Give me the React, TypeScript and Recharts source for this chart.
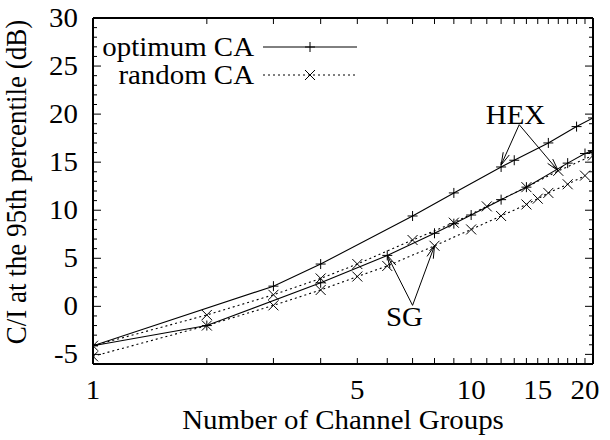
import React from 'react'
import {
    LineChart,
    Line,
    XAxis,
    YAxis,
    Legend,
    ReferenceLine,
    ReferenceDot
} from 'recharts'

const FONT = '"Liberation Serif", "DejaVu Serif", serif'
const FONT_SIZE = 27
// the PostScript-style lettering is a little wider than plain Times
const STRETCH = 1.07

// channel-group counts and C/I values (dB) for each curve
const optimumHexGroups = [1, 3, 4, 7, 9, 12, 13, 16, 19, 21]
const optimumHexDb = [-4.1, 2.1, 4.4, 9.4, 11.8, 14.5, 15.2, 17.0, 18.7, 19.6]

const optimumSgGroups = [1, 2, 4, 6, 8, 9, 10, 12, 14, 18, 20, 21]
const optimumSgDb = [-4.1, -2.0, 2.45, 5.3, 7.6, 8.6, 9.5, 11.1, 12.4, 14.9, 15.9, 16.2]

const randomHexGroups = [1, 2, 3, 4, 5, 7, 9, 11, 14, 17, 21]
const randomHexDb = [-4.1, -0.9, 1.2, 2.9, 4.4, 6.9, 8.7, 10.4, 12.4, 14.1, 15.7]

const randomSgGroups = [1, 2, 3, 4, 5, 6, 8, 10, 12, 14, 15, 16, 18, 20]
const randomSgDb = [-5.2, -2.0, 0.1, 1.7, 3.1, 4.2, 6.3, 8.0, 9.4, 10.6, 11.2, 11.8, 12.7, 13.6]

const xTicks = Array.from({ length: 21 }, (_, i) => i + 1)
const xLabels = [1, 5, 10, 15, 20]
const yTicks = Array.from({ length: 37 }, (_, i) => i - 6)
const yLabels = [-5, 0, 5, 10, 15, 20, 25, 30]

// annotation anchors (in data units)
const hexText = { n: 13.1, db: 19.9 }
const hexFrom = { n: 13.4, db: 18.9 }
const hexTargets = [{ n: 12, db: 14.7 }, { n: 17, db: 14.1 }]
const sgText = { n: 6.66, db: -1.1 }
const sgFrom = { n: 7.0, db: 0.1 }
const sgTargets = [{ n: 6, db: 5.3 }, { n: 8, db: 6.3 }]

const toPoints = (groups: number[], values: number[]) =>
    groups.map((n, i) => ({ n, db: values[i] }))

const Txt = ({ x, y, anchor = 'start', rotate = 0, children }: any) => (
    <text
        transform={`translate(${x} ${y}) rotate(${rotate}) scale(${rotate ? 1 : STRETCH} ${rotate ? STRETCH : 1})`}
        textAnchor={anchor}
        fontFamily={FONT}
        fontSize={FONT_SIZE}
        fill="#000"
    >
        {children}
    </text>
)

const PlusDot = (props: any) => {
    const { cx, cy } = props
    if (cx == null || cy == null) return null
    return (
        <path
            d={`M${cx - 5},${cy}H${cx + 5}M${cx},${cy - 5}V${cy + 5}`}
            stroke="#000"
            strokeWidth={1}
            fill="none"
        />
    )
}

const CrossDot = (props: any) => {
    const { cx, cy } = props
    if (cx == null || cy == null) return null
    return (
        <path
            d={`M${cx - 5},${cy - 5}L${cx + 5},${cy + 5}M${cx - 5},${cy + 5}L${cx + 5},${cy - 5}`}
            stroke="#000"
            strokeWidth={1}
            fill="none"
        />
    )
}

const BottomTick = ({ x, y, payload }: any) => {
    const v = payload.value
    return (
        <g>
            {v > 1 && v < 21 && <line x1={x} x2={x} y1={y} y2={y - 6} stroke="#000" />}
            {xLabels.includes(v) && (
                <Txt x={x} y={y + 35} anchor="middle">
                    {v}
                </Txt>
            )}
        </g>
    )
}

const TopTick = ({ x, y, payload }: any) => {
    const v = payload.value
    if (v <= 1 || v >= 21) return <g />
    return <line x1={x} x2={x} y1={y} y2={y + 6} stroke="#000" />
}

const LeftTick = ({ x, y, payload }: any) => {
    const v = payload.value
    const major = v % 5 === 0
    return (
        <g>
            {v > -6 && v < 30 && <line x1={x} x2={x + (major ? 8 : 4)} y1={y} y2={y} stroke="#000" />}
            {yLabels.includes(v) && (
                <Txt x={x - 15} y={y + 9} anchor="end">
                    {v}
                </Txt>
            )}
        </g>
    )
}

const RightTick = ({ x, y, payload }: any) => {
    const v = payload.value
    if (v <= -6 || v >= 30) return <g />
    const major = v % 5 === 0
    return <line x1={x} x2={x - (major ? 8 : 4)} y1={y} y2={y} stroke="#000" />
}

const Arrow = (props: any) => {
    const { x1, y1, x2, y2 } = props
    if ([x1, y1, x2, y2].some((v) => v == null || isNaN(v))) return null
    const a = Math.atan2(y2 - y1, x2 - x1)
    const len = 13
    const spread = 0.26
    const p1x = x2 - len * Math.cos(a - spread)
    const p1y = y2 - len * Math.sin(a - spread)
    const p2x = x2 - len * Math.cos(a + spread)
    const p2y = y2 - len * Math.sin(a + spread)
    return (
        <path
            d={`M${x1},${y1}L${x2},${y2}M${p1x},${p1y}L${x2},${y2}L${p2x},${p2y}`}
            stroke="#000"
            strokeWidth={1}
            fill="none"
        />
    )
}

const LegendBox = () => (
    <svg width={610} height={100} style={{ display: 'block' }}>
        <Txt x={254} y={56} anchor="end">
            optimum CA
        </Txt>
        <line x1={263} x2={357} y1={47} y2={47} stroke="#000" strokeWidth={1} />
        <PlusDot cx={310} cy={47} />
        <Txt x={254} y={84} anchor="end">
            random CA
        </Txt>
        <line x1={263} x2={357} y1={75} y2={75} stroke="#000" strokeWidth={1} strokeDasharray="2 3" />
        <CrossDot cx={310} cy={75} />
    </svg>
)

const textDot = (value: string) => (props: any) => {
    const { cx, cy } = props
    if (cx == null || cy == null) return <g />
    return (
        <Txt x={cx} y={cy + 9} anchor="middle">
            {value}
        </Txt>
    )
}

export default function App() {
    return (
        <div style={{ position: 'absolute', left: 0, top: 0, background: '#fff' }}>
            <LineChart
                width={610}
                height={440}
                margin={{ top: 8, right: 7, left: 33, bottom: 36 }}
            >
                <XAxis
                    xAxisId="bottom"
                    dataKey="n"
                    type="number"
                    scale="log"
                    domain={[1, 21]}
                    allowDataOverflow
                    ticks={xTicks}
                    interval={0}
                    height={40}
                    tickSize={0}
                    tickMargin={0}
                    tickLine={false}
                    axisLine={{ stroke: '#000', strokeWidth: 2 }}
                    tick={<BottomTick />}
                    label={{
                        content: ({ viewBox }: any) => (
                            <Txt x={viewBox.x + viewBox.width / 2} y={viewBox.y + 65} anchor="middle">
                                Number of Channel Groups
                            </Txt>
                        )
                    }}
                />
                <XAxis
                    xAxisId="top"
                    orientation="top"
                    dataKey="n"
                    type="number"
                    scale="log"
                    domain={[1, 21]}
                    allowDataOverflow
                    ticks={xTicks}
                    interval={0}
                    height={10}
                    tickSize={0}
                    tickMargin={0}
                    tickLine={false}
                    axisLine={{ stroke: '#000', strokeWidth: 2 }}
                    tick={<TopTick />}
                />
                <YAxis
                    yAxisId="left"
                    type="number"
                    domain={[-6, 30]}
                    allowDataOverflow
                    ticks={yTicks}
                    interval={0}
                    width={60}
                    tickSize={0}
                    tickMargin={0}
                    tickLine={false}
                    axisLine={{ stroke: '#000', strokeWidth: 2 }}
                    tick={<LeftTick />}
                    label={{
                        content: ({ viewBox }: any) => (
                            <Txt
                                x={viewBox.x - 7}
                                y={viewBox.y + viewBox.height / 2 - 9}
                                anchor="middle"
                                rotate={-90}
                            >
                                C/I at the 95th percentile (dB)
                            </Txt>
                        )
                    }}
                />
                <YAxis
                    yAxisId="right"
                    orientation="right"
                    type="number"
                    domain={[-6, 30]}
                    allowDataOverflow
                    ticks={yTicks}
                    interval={0}
                    width={10}
                    tickSize={0}
                    tickMargin={0}
                    tickLine={false}
                    axisLine={{ stroke: '#000', strokeWidth: 2 }}
                    tick={<RightTick />}
                />
                <Legend
                    layout="vertical"
                    align="center"
                    verticalAlign="middle"
                    wrapperStyle={{ left: 0, top: 0, width: 610, height: 100 }}
                    content={() => <LegendBox />}
                />

                <Line
                    xAxisId="bottom"
                    yAxisId="left"
                    data={toPoints(optimumHexGroups, optimumHexDb)}
                    dataKey="db"
                    name="optimum CA HEX"
                    type="linear"
                    stroke="#000"
                    strokeWidth={1.1}
                    dot={<PlusDot />}
                    activeDot={false}
                    isAnimationActive={false}
                />
                <Line
                    xAxisId="bottom"
                    yAxisId="left"
                    data={toPoints(optimumSgGroups, optimumSgDb)}
                    dataKey="db"
                    name="optimum CA SG"
                    type="linear"
                    stroke="#000"
                    strokeWidth={1.1}
                    dot={<PlusDot />}
                    activeDot={false}
                    isAnimationActive={false}
                />
                <Line
                    xAxisId="bottom"
                    yAxisId="left"
                    data={toPoints(randomHexGroups, randomHexDb)}
                    dataKey="db"
                    name="random CA HEX"
                    type="linear"
                    stroke="#000"
                    strokeWidth={1.1}
                    strokeDasharray="2 3"
                    dot={<CrossDot />}
                    activeDot={false}
                    isAnimationActive={false}
                />
                <Line
                    xAxisId="bottom"
                    yAxisId="left"
                    data={toPoints(randomSgGroups, randomSgDb)}
                    dataKey="db"
                    name="random CA SG"
                    type="linear"
                    stroke="#000"
                    strokeWidth={1.1}
                    strokeDasharray="2 3"
                    dot={<CrossDot />}
                    activeDot={false}
                    isAnimationActive={false}
                />

                {hexTargets.map((t, i) => (
                    <ReferenceLine
                        key={`hex-${i}`}
                        xAxisId="bottom"
                        yAxisId="left"
                        segment={[{ x: hexFrom.n, y: hexFrom.db }, { x: t.n, y: t.db }]}
                        shape={<Arrow />}
                    />
                ))}
                {sgTargets.map((t, i) => (
                    <ReferenceLine
                        key={`sg-${i}`}
                        xAxisId="bottom"
                        yAxisId="left"
                        segment={[{ x: sgFrom.n, y: sgFrom.db }, { x: t.n, y: t.db }]}
                        shape={<Arrow />}
                    />
                ))}
                <ReferenceDot
                    xAxisId="bottom"
                    yAxisId="left"
                    x={hexText.n}
                    y={hexText.db}
                    shape={textDot('HEX')}
                />
                <ReferenceDot
                    xAxisId="bottom"
                    yAxisId="left"
                    x={sgText.n}
                    y={sgText.db}
                    shape={textDot('SG')}
                />
            </LineChart>
        </div>
    )
}
